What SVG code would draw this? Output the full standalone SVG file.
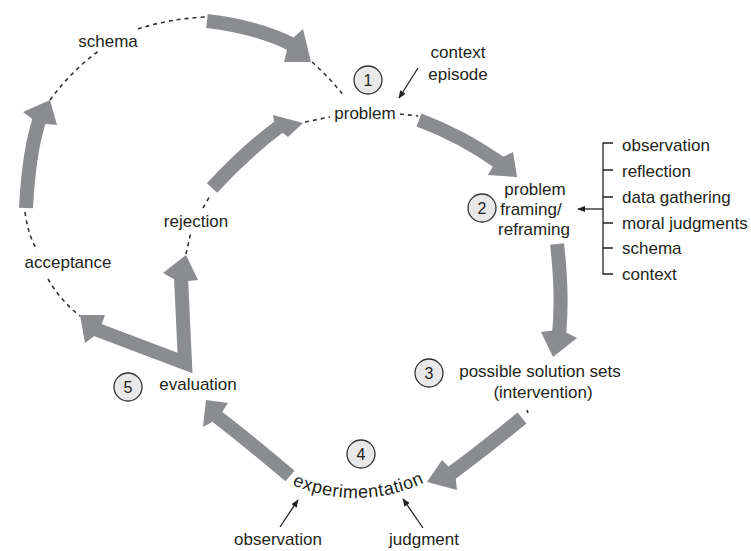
<svg xmlns="http://www.w3.org/2000/svg" width="751" height="551" viewBox="0 0 751 551">
<defs>
<marker id="ah" viewBox="0 0 10 10" refX="9" refY="5" markerWidth="8" markerHeight="8" markerUnits="userSpaceOnUse" orient="auto">
<path d="M0,1 L10,5 L0,9 Z" fill="#231f20"/>
</marker>
<style>
.t{font-family:"Liberation Sans",Arial,sans-serif;font-size:17px;fill:#231f20}
.m{text-anchor:middle}
.num{font-family:"Liberation Sans",Arial,sans-serif;font-size:16px;fill:#231f20;text-anchor:middle}
.c{fill:#e8e8e8;stroke:#333;stroke-width:1.3}
.sh{fill:none;stroke:#8b8c90;stroke-width:14;stroke-linecap:butt;stroke-linejoin:miter}
.hd{fill:#8b8c90}
.ds{fill:none;stroke:#333;stroke-width:1.6;stroke-dasharray:4 4}
.ln{fill:none;stroke:#231f20;stroke-width:1.3}
</style>
</defs>
<rect width="751" height="551" fill="#fff"/>

<g id="connectors">
<!-- dashed segments -->
<path class="ds" d="M50,100 Q72,70 100,50"/>
<path class="ds" d="M138,29 Q168,19 205,17"/>
<path class="ds" d="M312,62 Q330,78 344,96"/>
<path class="ds" d="M305,122 L330,117"/>
<path class="ds" d="M400,114 L418,116"/>
<path class="ds" d="M25,212 Q28,235 37,250"/>
<path class="ds" d="M48,279 Q60,300 80,316"/>
<path class="ds" d="M186,254 L191,232"/>
<path class="ds" d="M203,208 L211,194"/>
<path class="ds" d="M527,410 L528,413"/>
<!-- thick arrows -->
<path class="sh" d="M207,21 Q258,27 293,45"/>
<polygon class="hd" points="311,62 303,29 289.1,41.4 284,62"/>
<path class="sh" d="M419,120 Q462,136 500,163"/>
<polygon class="hd" points="517,177 513,152 496.4,160.1 488,175"/>
<path class="sh" d="M557,244 Q563,295 559,335"/>
<polygon class="hd" points="553,357 577,338 560.5,329.5 541,332"/>
<path class="sh" d="M522,418 Q483,450 449,475"/>
<polygon class="hd" points="427,482 442,460 455.1,473.3 457,490"/>
<path class="sh" d="M290,476 Q250,442 215,415"/>
<polygon class="hd" points="206,400 228,403 217.9,418.8 203,427"/>
<path class="sh" d="M95,329 L185,363 L181,277"/>
<polygon class="hd" points="186,255 198,280 179.1,281.9 163,273"/>
<polygon class="hd" points="80,315 105,315 98.75,332.5 85,343"/>
<path class="sh" d="M212,188 Q245,152 280,126"/>
<polygon class="hd" points="303,123 288,137 274.9,126.8 273,115"/>
<path class="sh" d="M26,208 Q29,150 40,118"/>
<polygon class="hd" points="50,100 57,125 37.5,123.1 23,112"/>
<!-- thin arrows -->
<line class="ln" x1="418" y1="68" x2="399" y2="98" marker-end="url(#ah)"/>
<line class="ln" x1="280" y1="527" x2="298" y2="500" marker-end="url(#ah)"/>
<line class="ln" x1="423" y1="528" x2="403" y2="499" marker-end="url(#ah)"/>
<line class="ln" x1="603" y1="209" x2="578" y2="209" marker-end="url(#ah)"/>
<path class="ln" d="M613,143 H603 V274 H613 M603,170 H613 M603,197 H613 M603,223 H613 M603,248 H613"/>
</g>

<g id="n1">
<circle class="c" cx="368" cy="80" r="14"/>
<text class="num" x="368" y="86">1</text>
<text class="t m" x="365" y="119">problem</text>
</g>
<g id="ctx">
<text class="t m" x="458" y="58">context</text>
<text class="t m" x="458" y="80">episode</text>
</g>
<g id="n2">
<circle class="c" cx="482" cy="208" r="14"/>
<text class="num" x="482" y="214">2</text>
<text class="t m" x="535" y="195">problem</text>
<text class="t m" x="531" y="215">framing/</text>
<text class="t m" x="534" y="235">reframing</text>
</g>
<g id="list">
<text class="t" x="622" y="151">observation</text>
<text class="t" x="622" y="177">reflection</text>
<text class="t" x="622" y="203">data gathering</text>
<text class="t" x="622" y="229">moral judgments</text>
<text class="t" x="622" y="254">schema</text>
<text class="t" x="622" y="280">context</text>
</g>
<g id="n3">
<circle class="c" cx="429" cy="373" r="14"/>
<text class="num" x="429" y="379">3</text>
<text class="t m" x="540" y="377">possible solution sets</text>
<text class="t m" x="543" y="398">(intervention)</text>
</g>
<g id="n4">
<circle class="c" cx="361" cy="454" r="14"/>
<text class="num" x="361" y="460">4</text>
<path id="arc" d="M280,478.7 A159,159 0 0 0 436,476.4" fill="none"/>
<text class="t" style="font-size:18px"><textPath href="#arc" startOffset="50%" text-anchor="middle" textLength="136" lengthAdjust="spacing">experimentation</textPath></text>
<text class="t m" x="278" y="545">observation</text>
<text class="t m" x="424" y="545">judgment</text>
</g>
<g id="n5">
<circle class="c" cx="128" cy="387" r="14"/>
<text class="num" x="128" y="393">5</text>
<text class="t m" x="198" y="390">evaluation</text>
</g>
<g id="rej">
<text class="t m" x="196" y="227">rejection</text>
</g>
<g id="acc">
<text class="t m" x="68" y="268">acceptance</text>
</g>
<g id="sch">
<text class="t m" x="108" y="47">schema</text>
</g>
</svg>
